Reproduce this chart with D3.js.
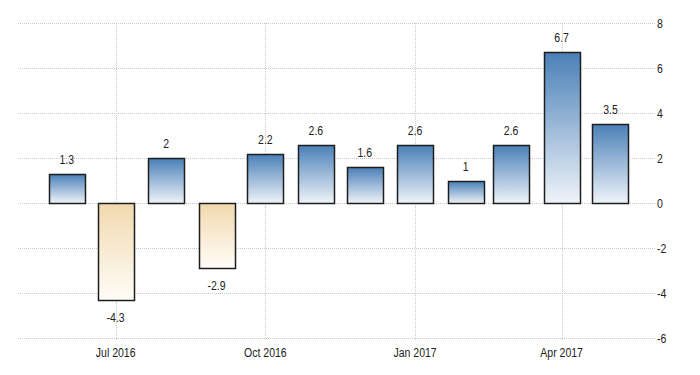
<!DOCTYPE html>
<html><head><meta charset="utf-8">
<script src="https://cdn.jsdelivr.net/npm/d3@7"></script>
<style>body{margin:0;background:#fff}svg{display:block}</style>
</head><body><svg id="c" width="700" height="375"></svg>
<script>
const months = ["2016-06","2016-07","2016-08","2016-09","2016-10","2016-11","2016-12","2017-01","2017-02","2017-03","2017-04","2017-05"];
const values = [1.3,-4.3,2,-2.9,2.2,2.6,1.6,2.6,1,2.6,6.7,3.5];
const yTicks = [-6,-4,-2,0,2,4,6,8];
const xTickDates = ["2016-07","2016-10","2017-01","2017-04"];
const xTickLabels = ["Jul 2016","Oct 2016","Jan 2017","Apr 2017"];

const svg = d3.select("#c");
const parse = d3.timeParse("%Y-%m");
const font = "'Liberation Sans Narrow','Arial Narrow','Liberation Sans',sans-serif";
const sx = 0.79;

const x = d3.scaleTime().domain([new Date(2016,4,2), new Date(2017,4,29)]).range([18,656]);
const y = d3.scaleLinear().domain([-6,8]).range([338,23]);

const defs = svg.append("defs");
const gp = defs.append("linearGradient").attr("id","gpos").attr("x1",0).attr("y1",0).attr("x2",0).attr("y2",1);
gp.append("stop").attr("offset","0%").attr("stop-color","#4a80b8");
gp.append("stop").attr("offset","100%").attr("stop-color","#f0f4f9");
const gn = defs.append("linearGradient").attr("id","gneg").attr("x1",0).attr("y1",0).attr("x2",0).attr("y2",1);
gn.append("stop").attr("offset","0%").attr("stop-color","#f1d9ae");
gn.append("stop").attr("offset","100%").attr("stop-color","#fffdf9");

// horizontal grid
svg.append("g").selectAll("line").data(yTicks).join("line")
  .attr("x1",18).attr("x2",656).attr("y1",d=>y(d)+0.5).attr("y2",d=>y(d)+0.5)
  .attr("stroke","#c8c8c8").attr("stroke-dasharray","1,1");
// vertical grid
svg.append("g").selectAll("line").data(xTickDates).join("line")
  .attr("x1",d=>Math.round(x(parse(d)))+0.5).attr("x2",d=>Math.round(x(parse(d)))+0.5)
  .attr("y1",23).attr("y2",340)
  .attr("stroke","#c8c8c8").attr("stroke-dasharray","1,1");

function txt(sel){
  return sel.attr("font-family",font).attr("font-size",13.3).attr("fill","#222");
}
// y labels
txt(svg.append("g").selectAll("text").data(yTicks).join("text")
  .attr("transform",d=>`translate(657,${y(d)}) scale(${sx},1)`).attr("dy","0.35em"))
  .text(d=>d);
// x labels
txt(svg.append("g").selectAll("text").data(xTickDates).join("text")
  .attr("transform",d=>`translate(${x(parse(d))},357) scale(${sx},1)`).attr("text-anchor","middle"))
  .text((d,i)=>xTickLabels[i]);

const bw = 36;
const data = months.map((m,i)=>({d:parse(m),v:values[i]}));
svg.append("g").selectAll("rect").data(data).join("rect")
  .attr("x",d=>Math.round(x(d.d)-bw/2)+0.5)
  .attr("width",bw)
  .attr("y",d=>Math.round(y(Math.max(0,d.v)))+0.5)
  .attr("height",d=>Math.abs(Math.round(y(d.v))-Math.round(y(0))))
  .attr("fill",d=>d.v>=0?"url(#gpos)":"url(#gneg)")
  .attr("stroke","#1e1e1e").attr("stroke-width",1.5);

txt(svg.append("g").selectAll("text").data(data).join("text")
  .attr("transform",d=>`translate(${x(d.d)},${d.v>=0? y(d.v)-10 : y(d.v)+22}) scale(${sx},1)`)
  .attr("text-anchor","middle"))
  .text(d=>d.v);
</script></body></html>
